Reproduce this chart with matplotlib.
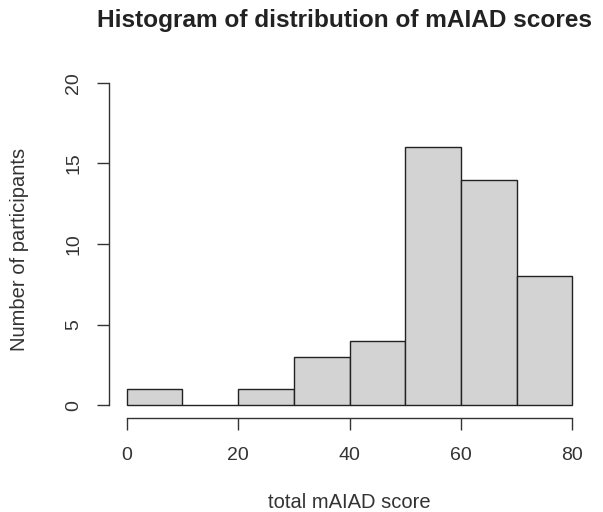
import matplotlib
matplotlib.use("Agg")
import matplotlib.pyplot as plt
import numpy as np

bin_edges = [0, 10, 20, 30, 40, 50, 60, 70, 80]
counts = [1, 0, 1, 3, 4, 16, 14, 8]
x_ticks = [0, 20, 40, 60, 80]
y_ticks = [0, 5, 10, 15, 20]

plt.rcParams['font.family'] = ['Liberation Sans', 'DejaVu Sans']
W, H = 603, 512
fig = plt.figure(figsize=(W / 100, H / 100), dpi=100)
ax = fig.add_axes([109 / W, (H - 418) / H, 481 / W, 348 / H])

lefts = np.array(bin_edges[:-1])
widths = np.diff(bin_edges)
ax.bar(lefts, counts, width=widths, align='edge', color='#d3d3d3',
       edgecolor='#222222', linewidth=1.0)

ax.set_xlim(-3.2, 83.2)
ax.set_ylim(-0.8, 20.8)
for s in ['top', 'right']:
    ax.spines[s].set_visible(False)
ax.spines['left'].set_bounds(0, 20)
ax.spines['bottom'].set_bounds(0, 80)
for s in ['left', 'bottom']:
    ax.spines[s].set_color('#333333')
    ax.spines[s].set_linewidth(1.0)
ax.set_xticks(x_ticks)
ax.set_yticks(y_ticks)
ax.set_yticklabels([str(v) for v in y_ticks], rotation=90, va='center')
ax.tick_params(axis='both', length=8.6, width=1.0, color='#333333',
               labelsize=14, labelcolor='#333333')
ax.tick_params(axis='x', pad=12.5)
ax.tick_params(axis='y', pad=10.5)

fig.text(345 / W, 1 - 20 / H, 'Histogram of distribution of mAIAD scores',
         ha='center', va='center', fontsize=17.6, fontweight='bold', color='#222222')
fig.text(349 / W, 1 - 502 / H, 'total mAIAD score', ha='center', va='center',
         fontsize=14.5, color='#333333')
fig.text(20 / W, 1 - 249 / H, 'Number of participants', ha='center', va='center',
         rotation=90, fontsize=14.5, color='#333333')

fig.savefig('out.png', dpi=100)
